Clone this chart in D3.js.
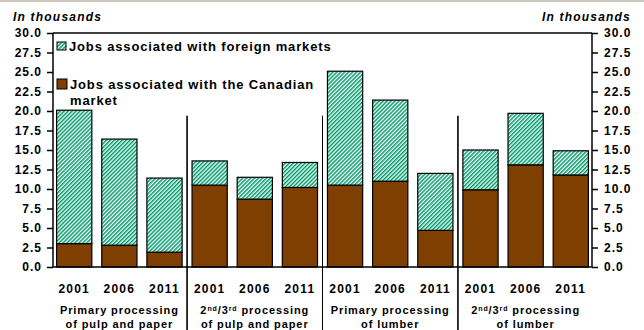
<!DOCTYPE html>
<html>
<head>
<meta charset="utf-8">
<script src="https://cdn.jsdelivr.net/npm/d3@7"></script>
<style>
  body { margin: 0; background: #fff; }
  text { font-family: Arial, "Liberation Sans", sans-serif; font-weight: bold; fill: #000; }
</style>
</head>
<body>
<div id="container"></div>
<script>
let w = 644;
let h = 330;

// data (thousands of jobs)
let years = ["2001", "2006", "2011"];
let groupLine1 = ["Primary processing", "2nd/3rd processing", "Primary processing", "2nd/3rd processing"];
let groupLine2 = ["of pulp and paper", "of pulp and paper", "of lumber", "of lumber"];
let canadian = [3.0, 2.8, 1.9, 10.5, 8.7, 10.2, 10.5, 11.0, 4.7, 9.9, 13.1, 11.8];
let foreign  = [17.1, 13.6, 9.5, 3.1, 2.8, 3.2, 14.6, 10.4, 7.3, 5.1, 6.6, 3.1];
let yTicks = [0, 2.5, 5, 7.5, 10, 12.5, 15, 17.5, 20, 22.5, 25, 27.5, 30];
let legendLabels = ["Jobs associated with foreign markets", "Jobs associated with the Canadian", "market"];

let brown = "#7f3f00";
let green = "#009a69";

let plotLeft = 53, plotRight = 592, plotTop = 33, plotBottom = 267;

let viz = d3.select("#container")
  .append("svg")
    .attr("width", w)
    .attr("height", h)
    .style("background-color", "white");

// hatch pattern for the foreign markets series
let defs = viz.append("defs");
let pat = defs.append("pattern")
    .attr("id", "hatch")
    .attr("patternUnits", "userSpaceOnUse")
    .attr("width", 2.8)
    .attr("height", 2.8)
    .attr("patternTransform", "rotate(45)");
pat.append("rect").attr("width", 2.8).attr("height", 2.8).attr("fill", "white");
pat.append("rect").attr("width", 1.5).attr("height", 2.8).attr("fill", green);

// thin header rule
viz.append("rect")
    .attr("x", 0).attr("y", 0)
    .attr("width", w).attr("height", 2)
    .attr("fill", "#cdc6bd");

let rows = canadian.map(function(c, i) {
  return { key: i, canadian: c, foreign: foreign[i] };
});

let xScale = d3.scaleBand()
    .domain(rows.map(d => d.key))
    .range([plotLeft, plotRight])
    .paddingInner(0.22)
    .paddingOuter(0.08);

let yScale = d3.scaleLinear().domain([0, 30]).range([plotBottom, plotTop]);

let stack = d3.stack().keys(["canadian", "foreign"]);
let series = stack(rows);

let barGroups = viz.selectAll(".series").data(series).enter()
  .append("g")
    .classed("series", true)
    .attr("fill", d => d.key == "canadian" ? brown : "url(#hatch)");

barGroups.selectAll("rect")
  .data(d => d)
  .enter()
  .append("rect")
    .attr("x", d => xScale(d.data.key))
    .attr("y", d => yScale(d[1]))
    .attr("width", xScale.bandwidth())
    .attr("height", d => yScale(d[0]) - yScale(d[1]))
    .attr("stroke", "#000")
    .attr("stroke-width", 1.2);

// axes
let fmt = d3.format(".1f");
let leftAxis = d3.axisLeft(yScale).tickValues(yTicks).tickFormat(fmt).tickSize(6).tickPadding(5);
let rightAxis = d3.axisRight(yScale).tickValues(yTicks).tickFormat(fmt).tickSize(6).tickPadding(6);

function styleAxis(g) {
  g.selectAll("path").attr("stroke", "#000").attr("stroke-width", 1.5);
  g.selectAll("line").attr("stroke", "#000").attr("stroke-width", 1.5);
  g.selectAll("text")
    .attr("fill", "#000")
    .style("font-size", "12px")
    .style("font-weight", "bold")
    .style("letter-spacing", "1px")
    .style("font-family", "Arial, 'Liberation Sans', sans-serif");
}

viz.append("g").attr("transform", "translate(" + plotLeft + ",0)").call(leftAxis).call(styleAxis)
  .call(g => g.select(".domain").attr("d", "M0," + plotBottom + "V" + plotTop));
viz.append("g").attr("transform", "translate(" + plotRight + ",0)").call(rightAxis).call(styleAxis)
  .call(g => g.select(".domain").attr("d", "M0," + plotBottom + "V" + plotTop));

// top frame and zero line
viz.append("line")
    .attr("x1", plotLeft).attr("x2", plotRight)
    .attr("y1", plotTop).attr("y2", plotTop)
    .attr("stroke", "#000").attr("stroke-width", 1.5);
viz.append("line")
    .attr("x1", plotLeft).attr("x2", plotRight)
    .attr("y1", plotBottom).attr("y2", plotBottom)
    .attr("stroke", "#000").attr("stroke-width", 1.5);

// group separators
let gap = xScale.step() - xScale.bandwidth();
[3, 6, 9].forEach(function(i, k) {
  let sx = xScale(i) - gap / 2;
  viz.append("line")
      .attr("x1", sx).attr("x2", sx)
      .attr("y1", yScale(19.4)).attr("y2", h)
      .attr("stroke", "#000")
      .attr("stroke-width", k == 1 ? 1 : 1.6);
});

// year labels
viz.selectAll(".year").data(rows).enter()
  .append("text")
    .classed("year", true)
    .attr("x", d => xScale(d.key) + xScale.bandwidth() / 2)
    .attr("y", 293)
    .attr("text-anchor", "middle")
    .style("font-size", "12px")
    .style("letter-spacing", "1.2px")
    .text(d => years[d.key % 3]);

// group labels, with superscripts for 2nd/3rd
function writeLabel(sel, str) {
  let parts = str.split(/(nd|rd)(?=\/| )/);
  parts.forEach(function(p) {
    if (p == "nd" || p == "rd") {
      sel.append("tspan").attr("baseline-shift", "super").style("font-size", "7px").text(p);
    } else {
      sel.append("tspan").text(p);
    }
  });
}

groupLine1.forEach(function(l1, g) {
  let cx = (xScale(g * 3) + xScale(g * 3 + 2) + xScale.bandwidth()) / 2;
  let t1 = viz.append("text")
      .attr("x", cx).attr("y", 314)
      .attr("text-anchor", "middle")
      .style("font-size", "11px")
      .style("letter-spacing", "0.9px");
  writeLabel(t1, l1);
  viz.append("text")
      .attr("x", cx).attr("y", 328)
      .attr("text-anchor", "middle")
      .style("font-size", "11px")
      .style("letter-spacing", "0.9px")
      .text(groupLine2[g]);
});

// unit labels
viz.append("text")
    .attr("x", 13).attr("y", 21)
    .style("font-size", "12px")
    .style("font-style", "italic")
    .style("letter-spacing", "1.2px")
    .text("In thousands");
viz.append("text")
    .attr("x", 631).attr("y", 21)
    .attr("text-anchor", "end")
    .style("font-size", "12px")
    .style("font-style", "italic")
    .style("letter-spacing", "1.2px")
    .text("In thousands");

// legend
viz.append("rect")
    .attr("x", 57).attr("y", 42).attr("width", 9).attr("height", 8)
    .attr("fill", "url(#hatch)").attr("stroke", "#000").attr("stroke-width", 1);
viz.append("rect")
    .attr("x", 57).attr("y", 79).attr("width", 10).attr("height", 10)
    .attr("fill", brown).attr("stroke", "#000").attr("stroke-width", 1);

let legendY = [50.5, 88.5, 105];
legendLabels.forEach(function(lab, i) {
  viz.append("text")
      .attr("x", i == 0 ? 69 : 70)
      .attr("y", legendY[i])
      .style("font-size", "13px")
      .style("letter-spacing", "0.85px")
      .text(lab);
});
</script>
</body>
</html>
